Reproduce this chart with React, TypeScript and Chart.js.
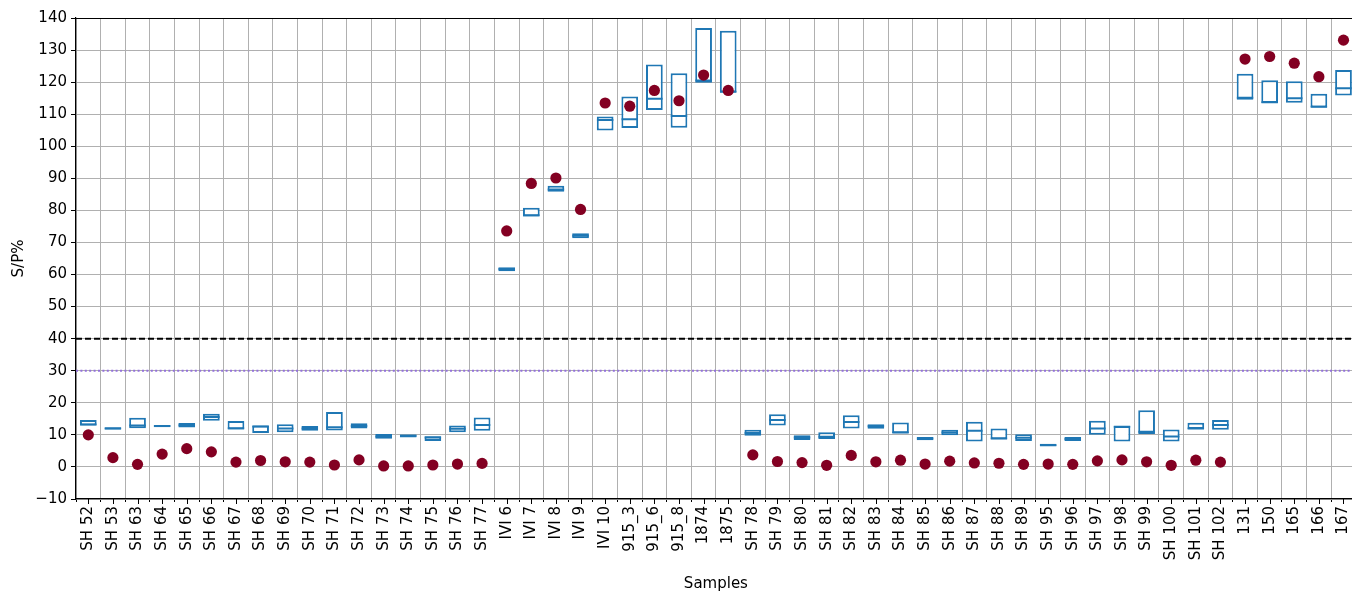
import React, { useEffect, useRef } from "react";
import { Chart, registerables } from "chart.js";

Chart.register(...registerables);

const samples = [
  "SH 52", "SH 53", "SH 63", "SH 64", "SH 65", "SH 66", "SH 67", "SH 68", "SH 69", "SH 70",
  "SH 71", "SH 72", "SH 73", "SH 74", "SH 75", "SH 76", "SH 77", "IVI 6", "IVI 7", "IVI 8",
  "IVI 9", "IVI 10", "915_3", "915_6", "915_8", "1874", "1875", "SH 78", "SH 79", "SH 80",
  "SH 81", "SH 82", "SH 83", "SH 84", "SH 85", "SH 86", "SH 87", "SH 88", "SH 89", "SH 95",
  "SH 96", "SH 97", "SH 98", "SH 99", "SH 100", "SH 101", "SH 102", "131", "150", "165",
  "166", "167",
];

const q1 = [
  12.9, 11.7, 12.1, 12.4, 12.3, 14.4, 11.7, 10.6, 10.8, 11.3,
  11.4, 12.0, 8.8, 9.2, 8.1, 10.8, 11.3, 61.0, 78.1, 85.8,
  71.3, 104.9, 105.7, 111.3, 105.8, 119.8, 116.8, 9.7, 12.9, 8.4,
  8.75, 12.0, 11.9, 10.5, 8.3, 9.9, 7.9, 8.6, 8.1, 6.5,
  8.1, 10.0, 7.9, 10.3, 7.9, 11.8, 11.6, 114.5, 113.5, 113.6,
  112.1, 115.8,
];

const q3 = [
  14.6, 12.4, 15.3, 13.1, 13.7, 16.6, 14.3, 12.9, 13.3, 12.8,
  17.1, 13.6, 10.3, 10.1, 9.6, 12.9, 15.4, 62.3, 80.8, 87.7,
  72.9, 109.3, 115.5, 125.5, 122.8, 136.9, 136.0, 11.6, 16.4, 9.9,
  10.8, 16.1, 13.3, 13.85, 9.3, 11.6, 14.1, 12.0, 10.2, 7.2,
  9.3, 14.4, 12.8, 17.7, 11.7, 13.75, 14.6, 122.6, 120.6, 120.3,
  116.4, 123.75,
];

const medians = [
  13.2, 12.0, 12.9, 12.8, 13.0, 15.6, 12.1, 12.6, 12.0, 12.0,
  12.4, 12.8, 9.5, 9.7, 9.2, 11.9, 13.1, 61.7, 78.5, 86.5,
  72.1, 108.2, 108.4, 114.8, 109.4, 120.5, 117.0, 10.6, 14.6, 9.2,
  9.4, 14.0, 12.7, 10.7, 8.85, 10.7, 11.25, 8.85, 9.1, 6.8,
  8.75, 12.0, 12.5, 11.0, 9.5, 12.0, 13.1, 115.1, 113.7, 115.0,
  112.3, 118.1,
];

const points = [
  10.0, 2.9, 0.8, 4.0, 5.7, 4.7, 1.5, 2.0, 1.6, 1.5,
  0.6, 2.2, 0.3, 0.3, 0.6, 0.9, 1.1, 73.6, 88.4, 90.1,
  80.3, 113.5, 112.5, 117.4, 114.2, 122.2, 117.4, 3.75, 1.7, 1.35,
  0.5, 3.6, 1.6, 2.1, 0.9, 1.8, 1.25, 1.15, 0.8, 0.9,
  0.8, 1.9, 2.2, 1.6, 0.5, 2.1, 1.5, 127.2, 128.0, 125.9,
  121.7, 133.1,
];

const cutoffLine = 40;
const referenceLine = 30;
const yMin = -10;
const yMax = 140;
const yStep = 10;

const BLUE = "#1f77b4";
const RED = "#830022";
const FONT = "'DejaVu Sans', sans-serif";
const FONT_SIZE = 15;

const refLinesPlugin = {
  id: "refLines",
  beforeDatasetsDraw(chart: any) {
    const { ctx, chartArea, scales } = chart;
    const y = scales.y;
    ctx.save();
    ctx.beginPath();
    ctx.rect(chartArea.left, chartArea.top, chartArea.right - chartArea.left, chartArea.bottom - chartArea.top);
    ctx.clip();
    let py = y.getPixelForValue(referenceLine);
    ctx.strokeStyle = "#9370db";
    ctx.lineWidth = 2;
    ctx.setLineDash([2, 2.4]);
    ctx.beginPath();
    ctx.moveTo(chartArea.left, py);
    ctx.lineTo(chartArea.right, py);
    ctx.stroke();
    py = y.getPixelForValue(cutoffLine);
    ctx.strokeStyle = "#000";
    ctx.lineWidth = 2;
    ctx.setLineDash([6, 3]);
    ctx.beginPath();
    ctx.moveTo(chartArea.left, py);
    ctx.lineTo(chartArea.right, py);
    ctx.stroke();
    ctx.restore();
  },
  afterDraw(chart: any) {
    const { ctx, chartArea, scales } = chart;
    const x = scales.x;
    ctx.save();
    ctx.strokeStyle = "#000";
    ctx.lineWidth = 1;
    ctx.setLineDash([]);
    for (let i = 0; i < samples.length; i++) {
      const px = Math.round(x.getPixelForTick(i)) + 0.5;
      ctx.beginPath();
      ctx.moveTo(px, chartArea.bottom);
      ctx.lineTo(px, chartArea.bottom + 5);
      ctx.stroke();
    }
    ctx.lineWidth = 1.2;
    ctx.beginPath();
    ctx.moveTo(chartArea.left, Math.round(chartArea.top) + 0.5);
    ctx.lineTo(chartArea.right, Math.round(chartArea.top) + 0.5);
    ctx.stroke();
    ctx.restore();
  },
};

export default function App() {
  const canvasRef = useRef<HTMLCanvasElement | null>(null);

  useEffect(() => {
    const canvas = canvasRef.current;
    if (!canvas) return;
    const chart = new Chart(canvas, {
      type: "bar",
      data: {
        labels: samples,
        datasets: [
          {
            type: "line",
            label: "Sample",
            data: points,
            showLine: false,
            pointStyle: "circle",
            pointRadius: 5.6,
            pointBackgroundColor: RED,
            pointBorderColor: RED,
            pointBorderWidth: 0,
            order: 0,
          } as any,
          {
            type: "line",
            label: "Median",
            data: medians,
            showLine: false,
            pointStyle: "line",
            pointRadius: 8.2,
            pointBorderColor: BLUE,
            pointBorderWidth: 2,
            order: 1,
          } as any,
          {
            type: "bar",
            label: "IQR",
            data: samples.map((_, i) => [q1[i], q3[i]]),
            backgroundColor: "#ffffff",
            borderColor: BLUE,
            borderWidth: 2,
            borderSkipped: false,
            barPercentage: 0.68,
            categoryPercentage: 1,
            order: 2,
          } as any,
        ],
      },
      options: {
        responsive: false,
        animation: false,
        devicePixelRatio: 1,
        layout: { padding: { top: 18, right: 4, left: 0, bottom: 0 } },
        plugins: {
          legend: { display: false },
          tooltip: { enabled: false },
        },
        scales: {
          x: {
            type: "category",
            offset: true,
            grid: {
              offset: true,
              color: "#b0b0b0",
              lineWidth: 1,
              tickLength: 3,
              tickColor: "#000",
            },
            border: { color: "#000", width: 1.2 },
            ticks: {
              autoSkip: false,
              maxRotation: 90,
              minRotation: 90,
              color: "#000",
              padding: 4,
              font: { family: FONT, size: FONT_SIZE },
            },
            title: {
              display: true,
              text: "Samples",
              color: "#000",
              padding: { top: 0, bottom: 0 },
              font: { family: FONT, size: FONT_SIZE },
            },
            afterFit(scale: any) {
              scale.height = 94;
            },
          },
          y: {
            type: "linear",
            min: yMin,
            max: yMax,
            grid: {
              color: "#b0b0b0",
              lineWidth: 1,
              tickLength: 5,
              tickColor: "#000",
            },
            border: { color: "#000", width: 1.2 },
            ticks: {
              stepSize: yStep,
              color: "#000",
              padding: 4,
              font: { family: FONT, size: FONT_SIZE },
              callback: (v: any) => (Number(v) < 0 ? "\u2212" + Math.abs(Number(v)) : String(v)),
            },
            title: {
              display: true,
              text: "S/P%",
              color: "#000",
              padding: { top: 10, bottom: 0 },
              font: { family: FONT, size: FONT_SIZE },
            },
            afterFit(scale: any) {
              scale.width = 76;
            },
          },
        },
      },
      plugins: [refLinesPlugin],
    });
    return () => chart.destroy();
  }, []);

  return (
    <div
      style={{
        position: "fixed",
        left: 0,
        top: 0,
        width: 1352,
        height: 591,
        overflow: "hidden",
        background: "#fff",
      }}
    >
      <canvas
        ref={canvasRef}
        width={1366}
        height={593}
        style={{ display: "block", width: 1366, height: 593 }}
      />
    </div>
  );
}
